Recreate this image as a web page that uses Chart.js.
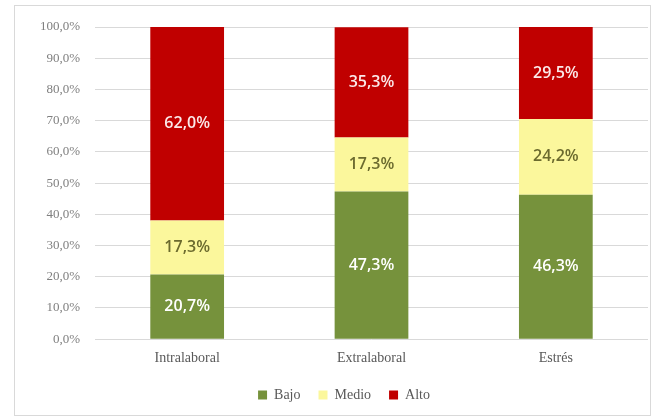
<!DOCTYPE html>
<html><head><meta charset="utf-8">
<script src="https://cdn.jsdelivr.net/npm/chart.js@4"></script>
<style>html,body{margin:0;padding:0;background:#fff}#wrap{width:656px;height:420px;position:relative}</style>
</head><body><div id="wrap"><canvas id="c" width="656" height="420"></canvas></div>
<script>
const categories = ["Intralaboral", "Extralaboral", "Estrés"];
const bajo = [20.7, 47.3, 46.3];
const medio = [17.3, 17.3, 24.2];
const alto = [62.0, 35.3, 29.5];
const seriesNames = ["Bajo", "Medio", "Alto"];
const yTicks = [0,10,20,30,40,50,60,70,80,90,100];

const fmt = v => v.toFixed(1).replace('.', ',') + '%';

const framePlugin = {
  id: 'frame',
  beforeDraw(chart) {
    const ctx = chart.ctx;
    ctx.save();
    ctx.fillStyle = '#fff';
    ctx.fillRect(0,0,chart.width,chart.height);
    ctx.strokeStyle = '#d9d9d9';
    ctx.lineWidth = 1;
    ctx.strokeRect(14.5, 5.5, 636, 410);
    ctx.restore();
  }
};
const labelPlugin = {
  id: 'vlabels',
  afterDatasetsDraw(chart) {
    const ctx = chart.ctx;
    ctx.save();
    ctx.font = '600 16px "Open Sans", sans-serif';
    ctx.textAlign = 'center';
    ctx.textBaseline = 'middle';
    chart.data.datasets.forEach((ds, di) => {
      const meta = chart.getDatasetMeta(di);
      meta.data.forEach((el, i) => {
        const p = el.getProps(['x','y','base'], true);
        ctx.fillStyle = ds.labelColor;
        ctx.fillText(fmt(ds.data[i]), p.x, (p.y + p.base) / 2);
      });
    });
    ctx.restore();
  }
};

new Chart(document.getElementById('c'), {
  type: 'bar',
  data: {
    labels: categories,
    datasets: [
      {label: seriesNames[0], data: bajo, backgroundColor: '#76923c', labelColor: '#ffffff'},
      {label: seriesNames[1], data: medio, backgroundColor: '#fbf79c', labelColor: '#6b6a2e'},
      {label: seriesNames[2], data: alto, backgroundColor: '#c00000', labelColor: '#fbe9e9'}
    ]
  },
  options: {
    responsive: false,
    animation: false,
    layout: {padding: {left: 40, right: 8, top: 27, bottom: 8}},
    barPercentage: 0.4,
    categoryPercentage: 1.0,
    plugins: {
      legend: {
        position: 'bottom',
        labels: {boxWidth: 9, boxHeight: 9, color: '#595959', font: {family: '"Liberation Serif", serif', size: 14}, padding: 18}
      },
      tooltip: {enabled: false}
    },
    scales: {
      x: {
        stacked: true,
        grid: {display: false},
        border: {display: false},
        ticks: {color: '#595959', font: {family: '"Liberation Serif", serif', size: 14}, padding: 3}
      },
      y: {
        stacked: true,
        min: 0, max: 100,
        afterFit(scale) { scale.width = 55; },
        afterBuildTicks(scale) { scale.ticks = yTicks.map(v => ({value: v})); },
        grid: {color: '#d9d9d9', drawTicks: false},
        border: {display: false},
        ticks: {color: '#7f7f7f', font: {family: '"Liberation Serif", serif', size: 13}, padding: 15, callback: v => fmt(v)}
      }
    }
  },
  plugins: [framePlugin, labelPlugin]
});
</script></body></html>
